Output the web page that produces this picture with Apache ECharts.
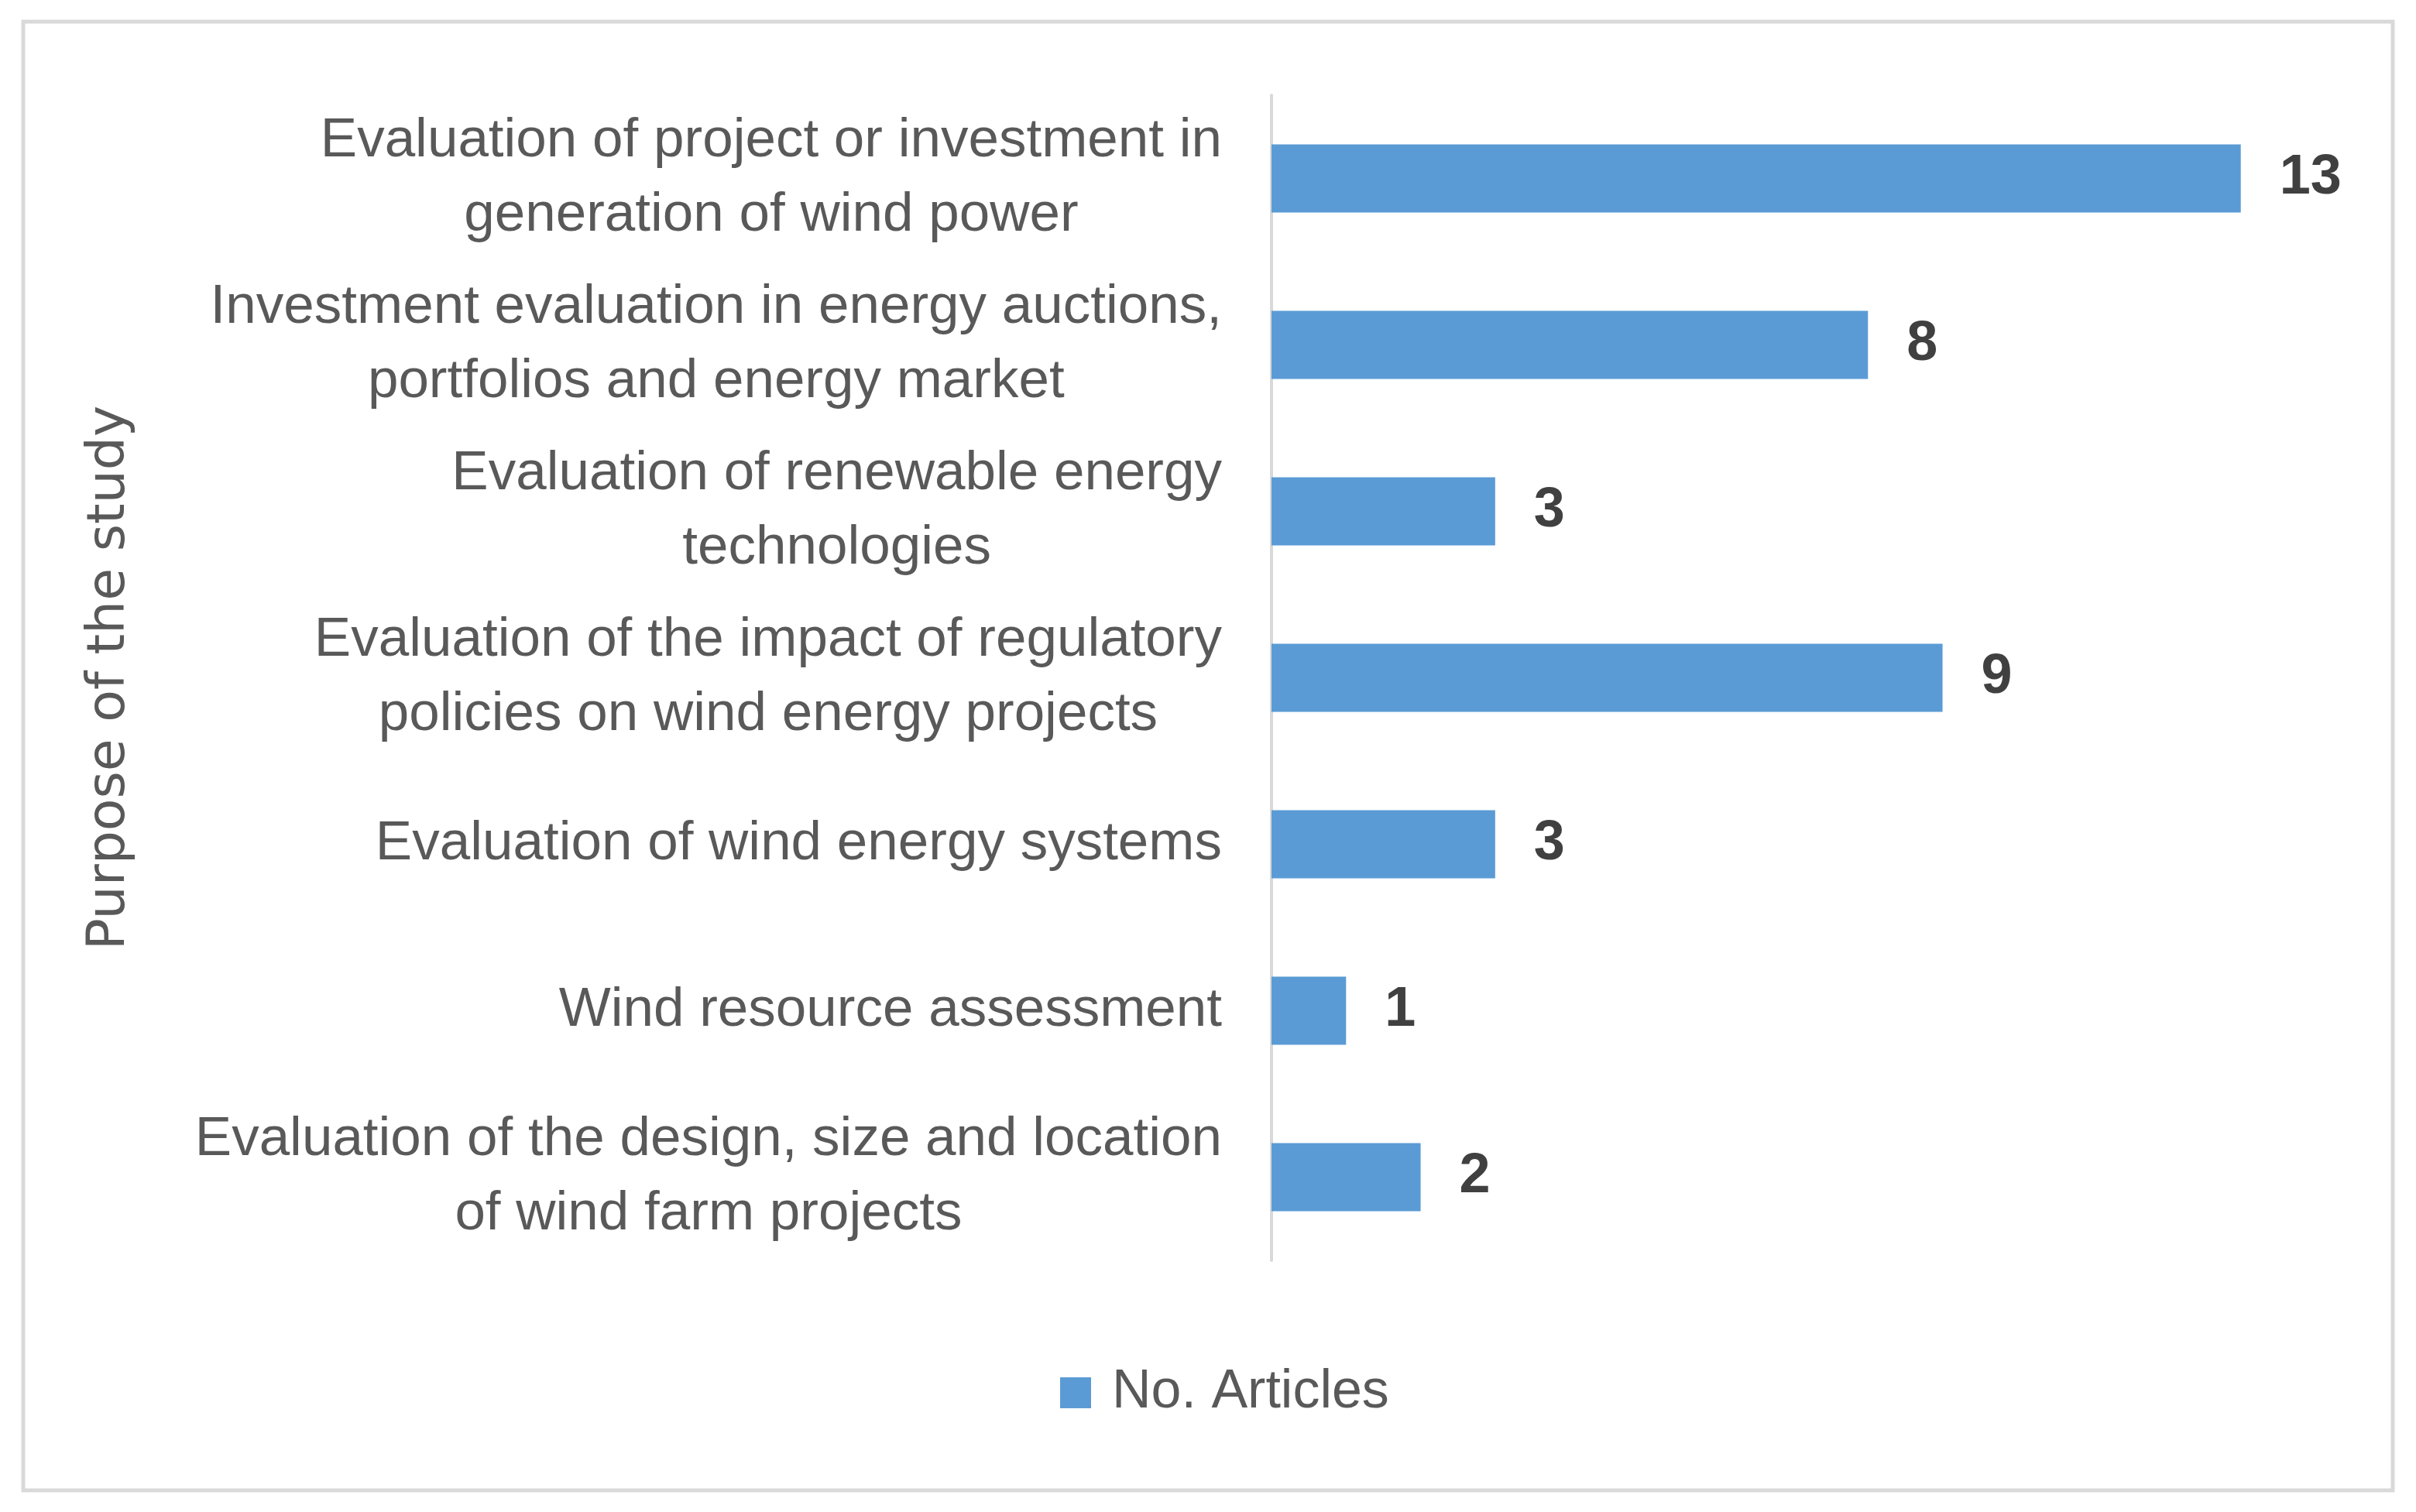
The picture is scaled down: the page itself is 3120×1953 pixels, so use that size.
<!DOCTYPE html>
<html>
<head>
<meta charset="utf-8">
<script src="https://cdn.jsdelivr.net/npm/echarts@6/dist/echarts.min.js"></script>
<style>
html,body{margin:0;padding:0;background:#fff;}
#chart{width:3120px;height:1953px;}
</style>
</head>
<body>
<div id="chart"></div>
<script>
const categories = [
  "Evaluation of project or investment in\ngeneration of wind power",
  "Investment evaluation in energy auctions,\nportfolios and energy market",
  "Evaluation of renewable energy\ntechnologies",
  "Evaluation of the impact of regulatory\npolicies on wind energy projects",
  "Evaluation of wind energy systems",
  "Wind resource assessment",
  "Evaluation of the design, size and location\nof wind farm projects"
];
const articles = [13, 8, 3, 9, 3, 1, 2];
const seriesName = "No. Articles";
const axisTitle = "Purpose of the study";

const chart = echarts.init(document.getElementById('chart'), null, {renderer: 'canvas'});
const labelFont = "'Liberation Sans Narrow', 'Arial Narrow', sans-serif";
chart.setOption({
  backgroundColor: '#ffffff',
  animation: false,
  graphic: [{
    type: 'rect',
    shape: {x: 30, y: 28, width: 3060, height: 1897},
    style: {fill: 'none', stroke: '#d9d9d9', lineWidth: 5},
    silent: true
  }],
  legend: {
    data: [seriesName],
    left: 1364,
    top: 1759,
    itemWidth: 40,
    itemHeight: 40,
    itemGap: 20,
    icon: 'rect',
    textStyle: {fontFamily: labelFont, fontSize: 70, color: '#595959', padding: [0, 0, 0, 22]}
  },
  grid: {left: 1642, top: 123, right: 130, bottom: 325, containLabel: false},
  xAxis: {
    type: 'value', min: 0, max: 14, interval: 1,
    axisLine: {show: false}, axisTick: {show: false},
    axisLabel: {show: false}, splitLine: {show: false}
  },
  yAxis: {
    type: 'category',
    data: categories,
    inverse: true,
    name: axisTitle,
    nameLocation: 'middle',
    nameRotate: 90,
    nameGap: 1466,
    nameTextStyle: {fontFamily: "'DejaVu Sans', sans-serif", fontSize: 68, color: '#595959'},
    axisLine: {show: true, lineStyle: {color: '#d9d9d9', width: 4}},
    axisTick: {show: false},
    axisLabel: {
      margin: 64,
      align: 'right',
      color: '#595959',
      fontFamily: labelFont,
      fontSize: 71,
      lineHeight: 96,
      formatter: function (v) {
        return v.split('\n').map(function (s) { return '{c|' + s + '}'; }).join('\n');
      },
      rich: {
        c: {align: 'center', fontFamily: labelFont, fontSize: 71, lineHeight: 96, color: '#595959'}
      }
    }
  },
  series: [{
    name: seriesName,
    type: 'bar',
    data: articles,
    barCategoryGap: '59%',
    itemStyle: {color: '#5b9bd5'},
    label: {
      show: true,
      position: 'right',
      distance: 50,
      fontFamily: labelFont,
      fontSize: 72,
      fontWeight: 'bold',
      color: '#404040'
    }
  }]
});
</script>
</body>
</html>
